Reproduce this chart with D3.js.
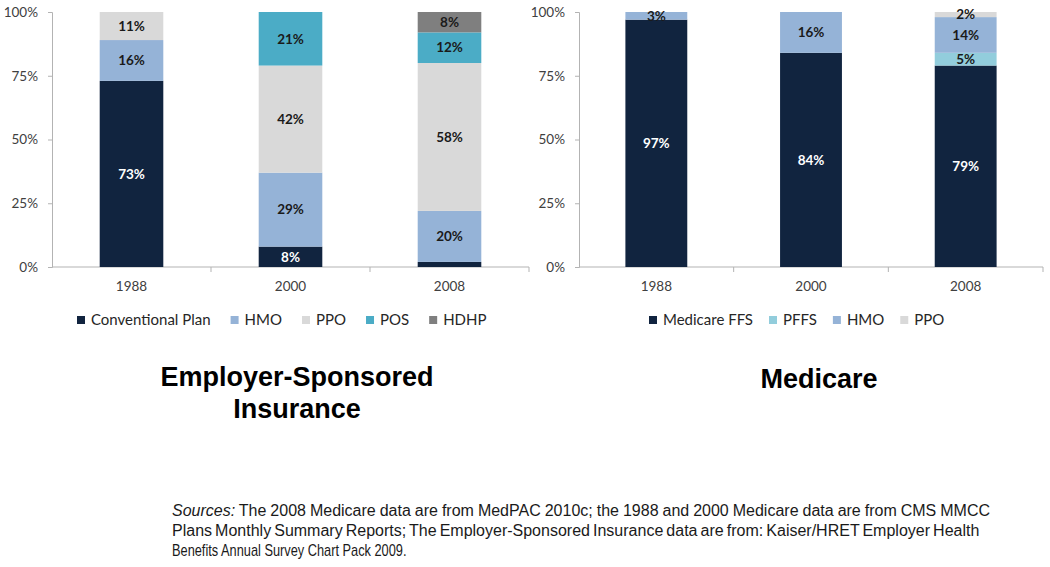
<!DOCTYPE html>
<html>
<head>
<meta charset="utf-8">
<script src="https://cdn.jsdelivr.net/npm/d3@7"></script>
<style>
  html, body { margin: 0; padding: 0; background: #ffffff; }
  svg { display: block; }
</style>
</head>
<body>
<svg id="chart" width="1050" height="567"></svg>
<script>
// ---------- DATA ----------
const years = ["1988", "2000", "2008"];
const yTicks = [0, 25, 50, 75, 100];

// Employer-Sponsored Insurance
const esiSeries = ["Conventional Plan", "HMO", "PPO", "POS", "HDHP"];
const esiConventional = [73, 8, 2];
const esiHMO = [16, 29, 20];
const esiPPO = [11, 42, 58];
const esiPOS = [0, 21, 12];
const esiHDHP = [0, 0, 8];
const esiColors = ["#11243f", "#95b3d7", "#d9d9d9", "#4bacc6", "#7f7f7f"];

// Medicare
const medSeries = ["Medicare FFS", "PFFS", "HMO", "PPO"];
const medFFS = [97, 84, 79];
const medPFFS = [0, 0, 5];
const medHMO = [3, 16, 14];
const medPPO = [0, 0, 2];
const medColors = ["#11243f", "#92cddc", "#95b3d7", "#d9d9d9"];

const titles = ["Employer-Sponsored", "Insurance"];
const medTitle = "Medicare";
const sourceLines = [
  "The 2008 Medicare data are from MedPAC 2010c; the 1988 and 2000 Medicare data are from CMS MMCC",
  "Plans Monthly Summary Reports; The Employer-Sponsored  Insurance data are from: Kaiser/HRET Employer Health",
  "Benefits Annual Survey Chart Pack 2009."
];

// ---------- DRAW ----------
const svg = d3.select("#chart");
const labelFont = "Lato, 'Open Sans', sans-serif";
const axisColor = "#b3b3b3";

function drawPanel(cfg) {
  const rows = years.map((yr, i) => {
    const o = { year: yr };
    cfg.series.forEach((s, j) => { o[s] = cfg.values[j][i]; });
    return o;
  });
  const stack = d3.stack().keys(cfg.series)(rows);
  const x = d3.scaleBand().domain(years).range([cfg.x0, cfg.x1]).paddingInner(0.6).paddingOuter(0.3);
  const y = d3.scaleLinear().domain([0, 100]).range([267, 12]);
  const color = d3.scaleOrdinal().domain(cfg.series).range(cfg.colors);

  const g = svg.append("g");

  // y axis
  const yAxis = d3.axisLeft(y).tickValues(yTicks).tickSize(4).tickPadding(10).tickFormat(d => d + "%");
  const ya = g.append("g").attr("transform", `translate(${cfg.x0},0)`).call(yAxis);
  ya.select(".domain").attr("stroke", axisColor);
  ya.selectAll(".tick line").attr("stroke", axisColor);
  ya.selectAll(".tick text").attr("fill", "#404040").style("font-family", labelFont).style("font-size", "13.5px");

  // x axis
  const xAxis = d3.axisBottom(x).tickSize(0).tickPadding(14);
  const xa = g.append("g").attr("transform", `translate(0,${y(0)})`).call(xAxis);
  xa.select(".domain").attr("stroke", axisColor).attr("d", `M${cfg.x0},0H${cfg.x1}`);
  xa.selectAll(".tick text").attr("fill", "#404040").style("font-family", labelFont).style("font-size", "13.5px");
  // category boundary ticks
  const step = x.step();
  const bounds = d3.range(1, years.length + 1).map(i => cfg.x0 + i * step);
  xa.selectAll(".bnd").data(bounds).join("line").attr("class", "bnd")
    .attr("x1", d => d).attr("x2", d => d).attr("y1", 0).attr("y2", 5).attr("stroke", axisColor);

  // bars
  stack.forEach(layer => {
    const key = layer.key;
    g.append("g").selectAll("rect").data(layer.filter(d => d[1] - d[0] > 0)).join("rect")
      .attr("x", d => x(d.data.year))
      .attr("width", x.bandwidth())
      .attr("y", d => y(d[1]))
      .attr("height", d => y(d[0]) - y(d[1]))
      .attr("fill", color(key));
  });
  // labels
  stack.forEach((layer, li) => {
    g.append("g").selectAll("text").data(layer.filter(d => d[1] - d[0] >= cfg.minLabel)).join("text")
      .attr("x", d => x(d.data.year) + x.bandwidth() / 2)
      .attr("y", d => y((d[0] + d[1]) / 2))
      .attr("dy", "0.35em")
      .attr("text-anchor", "middle")
      .attr("fill", li === 0 ? "#ffffff" : "#1a1a1a")
      .style("font-family", labelFont).style("font-weight", "700").style("font-size", "13.5px")
      .text(d => Math.round(d[1] - d[0]) + "%");
  });

  // legend
  const lg = g.append("g");
  let lx = cfg.legendX;
  cfg.series.forEach((s, i) => {
    lg.append("rect").attr("x", lx).attr("y", 316).attr("width", 8).attr("height", 8).attr("fill", cfg.colors[i]);
    const t = lg.append("text").attr("x", lx + 14).attr("y", 320).attr("dy", "0.35em")
      .attr("fill", "#262626").style("font-family", labelFont).style("font-size", "15px").text(s);
    lx += 14 + t.node().getComputedTextLength() + cfg.legendGap;
  });
}

drawPanel({
  series: esiSeries,
  values: [esiConventional, esiHMO, esiPPO, esiPOS, esiHDHP],
  colors: esiColors,
  x0: 52, x1: 529, legendX: 77, legendGap: 20, minLabel: 3
});
drawPanel({
  series: medSeries,
  values: [medFFS, medPFFS, medHMO, medPPO],
  colors: medColors,
  x0: 579, x1: 1043, legendX: 649, legendGap: 16, minLabel: 1
});

// titles
const titleStyle = sel => sel.attr("text-anchor", "middle").attr("fill", "#000")
  .style("font-family", "'Liberation Sans', Arial, sans-serif").style("font-weight", "700").style("font-size", "27px");
svg.append("text").attr("x", 297).attr("y", 386).text(titles[0]).call(titleStyle);
svg.append("text").attr("x", 297).attr("y", 418).text(titles[1]).call(titleStyle);
svg.append("text").attr("x", 819).attr("y", 388).text(medTitle).call(titleStyle);

// sources: first two lines justified, last line in narrow glyphs
const targets = [818, 806, null];
const sx = 0.8;
sourceLines.forEach((line, i) => {
  const holder = svg.append("g").attr("transform", i < 2 ? "translate(172,0)" : `translate(172,0) scale(${sx},1)`);
  const t = holder.append("text").attr("x", 0).attr("y", 516 + i * 20)
    .attr("fill", "#1a1a1a").style("font-family", "'Liberation Sans', Arial, sans-serif").style("font-size", "16px");
  if (i === 0) {
    t.append("tspan").style("font-style", "italic").text("Sources:");
    t.append("tspan").text(" " + line);
  } else {
    t.text(line);
  }
  if (targets[i]) {
    const full = i === 0 ? "Sources: " + line : line;
    const nSpaces = full.split(" ").length - 1;
    const w = t.node().getComputedTextLength();
    t.style("word-spacing", ((targets[i] - w) / nSpaces) + "px");
  }
});
</script>
</body>
</html>
